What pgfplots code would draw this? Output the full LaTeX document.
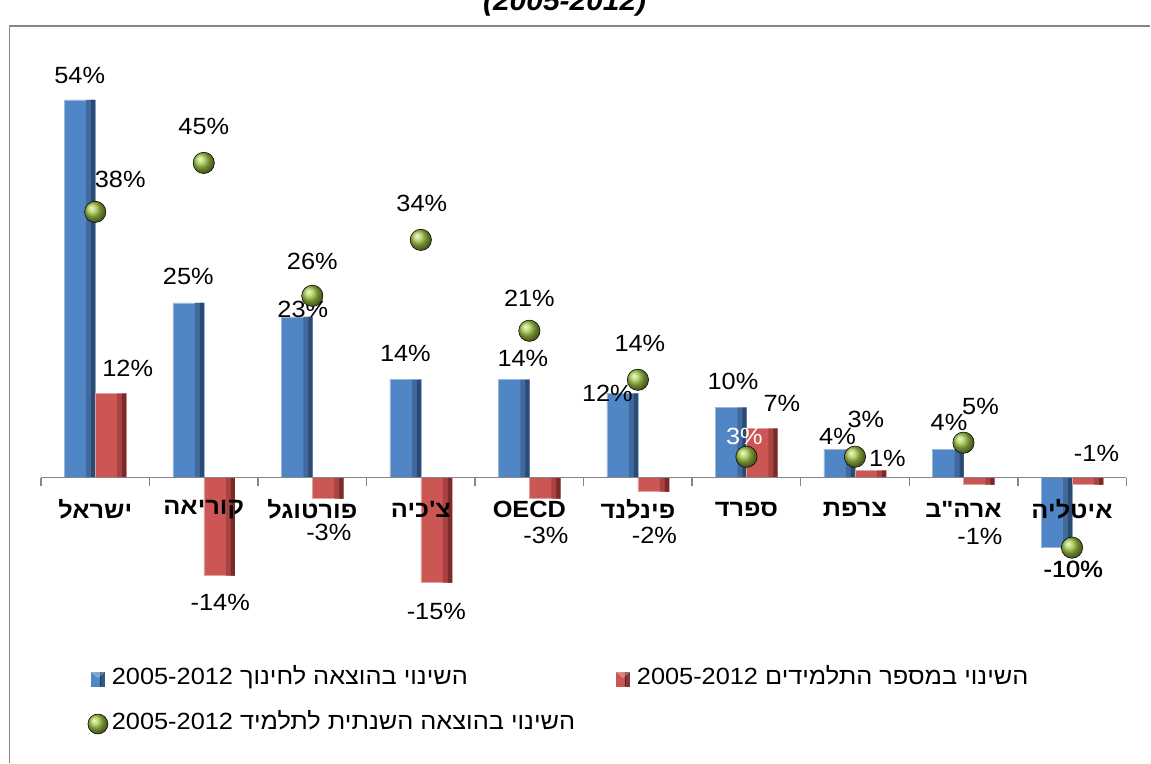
\documentclass[border=0pt]{standalone}
\usepackage{fontspec}
\setmainfont{Liberation Sans}[FakeStretch=1.08]
\newfontfamily\hebfont[Script=Hebrew,FakeStretch=1.08]{Liberation Sans}
\TeXXeTstate=1
\usepackage{pgfplots}
\pgfplotsset{compat=1.18}
\usepackage{pgfplotstable}

\definecolor{blueM}{HTML}{5186C6}
\definecolor{blueA}{HTML}{41699E}
\definecolor{blueD}{HTML}{2B4A74}
\definecolor{blueE}{HTML}{9DB5D8}
\definecolor{redM}{HTML}{CB5653}
\definecolor{redA}{HTML}{A84341}
\definecolor{redD}{HTML}{7A2A28}
\definecolor{redE}{HTML}{DDA3A1}
\definecolor{olive}{HTML}{A2C845}
\definecolor{axgray}{HTML}{868686}

\newcommand\lblfont{\fontsize{17.6}{21}\selectfont}
\newcommand\hebl{\fontsize{17.6}{21}\selectfont\hebfont}
\newcommand\hebb{\fontsize{17.6}{21}\selectfont\hebfont\bfseries}
\newcommand\pct{\pgfmathprintnumber[fixed,precision=0,assume math mode=true]{\pgfplotspointmeta}\%}

% x = category index, y = value (%), dx/dy = label offset in px from category centre / value
\pgfplotstableread{
x y dx dy
0 54 -15.5 24.5
1 25 -15.5 26
2 23 -9.5 7
3 14 -15.5 26
4 14 -6.5 21
5 12 -30.5 0
6 10 -13.5 26
7 4 -17.5 13
8 4 -14.5 27
9 -10 1.5 -22
}\spend

\pgfplotstableread{
x y dx dy
0 12 32.5 25.5
1 -14 16.5 -27
2 -3 16.5 -33.5
3 -15 15.5 -29
4 -3 16.5 -37
5 -2 16.5 -44
6 7 35.5 25
7 1 32.5 12
8 -1 16.5 -51.5
9 -1 24.5 31
}\students

% c = label blackness (100 black, 0 white)
\pgfplotstableread{
x y dx dy c
0 38 25 32 100
1 45 0 36 100
2 26 0 34 100
3 34 1 36 100
4 21 0 32 100
5 14 2 36 100
6 3 -2 20 0
7 3 11 37 100
8 5 17 36 100
9 -10 1 -22 100
}\perstudent

\pgfplotsset{
  lbl/.style={
    point meta=y,
    visualization depends on={\thisrow{dx} \as \dx},
    visualization depends on={\thisrow{dy} \as \dy},
    nodes near coords={\pct},
    nodes near coords style={anchor=center, inner sep=0pt, font=\lblfont,
      xshift=\dx*0.75pt, yshift=\dy*0.75pt}},
  sqimg/.style={legend image code/.code={%
    \pgfpathrectangle{\pgfpoint{-7.875pt}{-0.5pt}}{\pgfpoint{18.375pt}{1pt}}%
    \pgfusepath{use as bounding box}%
    \begin{pgfinterruptboundingbox}
    \fill[#1] (-4.875pt,-5.25pt) rectangle (4.875pt,5.25pt);
    \fill[black, opacity=0.35] (1.5pt,-5.25pt) rectangle (4.875pt,5.25pt);
    \fill[white, opacity=0.25] (-4.875pt,5.25pt) -- (0pt,1pt) -- (4.875pt,5.25pt) -- cycle;
    \end{pgfinterruptboundingbox}}}
}

\begin{document}
\begin{tikzpicture}[x=0.75pt,y=0.75pt]
\path (0,0) rectangle (1151,763);
\begin{axis}[
  at={(30.75pt,108.75pt)}, anchor=south west,
  scale only axis, width=814.5pt, height=420pt,
  xmin=-0.5, xmax=9.5, ymin=-20, ymax=60,
  clip=false, axis on top,
  axis y line=none,
  axis x line*=middle,
  x axis line style={draw=axgray, line width=1.1pt},
  xtick={0,...,9},
  xticklabels={\beginR ישראל\endR,\beginR קוריאה\endR,\beginR פורטוגל\endR,\beginR צ'כיה\endR,OECD,\beginR פינלנד\endR,\beginR ספרד\endR,\beginR צרפת\endR,\beginR ארה"ב\endR,\beginR איטליה\endR},
  major tick length=0pt,
  minor xtick={-0.5,0.5,...,9.5},
  minor tick length=6pt,
  tick align=outside,
  minor tick style={draw=axgray, line width=1.1pt},
  xticklabel style={font=\hebb, anchor=center, yshift=-24pt, inner sep=0pt},
  ytick=\empty,
  legend columns=2,
  legend cell align=left,
  legend style={
    at={(axis description cs:0.0428,-0.0888)}, anchor=north west,
    draw=none, fill=none, inner sep=0pt, outer sep=0pt,
    font=\lblfont,
    nodes={inner sep=0pt, text height=13pt, text depth=4.6pt},
    row sep=16.15pt,
    /tikz/every odd column/.append style={column sep=0pt},
    /tikz/every even column/.append style={column sep=28pt},
  },
]
% education spending
\addplot[ybar, bar width=23.25pt, bar shift=-11.625pt,
  draw=blueE, line width=0.4pt, fill=blueM,
  lbl, nodes near coords style={text=black},
  sqimg=blueM] table[x=x,y=y] {\spend};
\addlegendentry{\hebl\beginR השינוי בהוצאה לחינוך \beginL 2005-2012\endL{}\endR}
\addplot[forget plot, ybar, bar width=6.75pt, bar shift=-3.375pt, draw=none, fill=blueA]
  table[x=x,y=y] {\spend};
\addplot[forget plot, ybar, bar width=3pt, bar shift=-1.5pt, draw=none, fill=blueD]
  table[x=x,y=y] {\spend};

% number of students
\addplot[ybar, bar width=23.25pt, bar shift=11.625pt,
  draw=redE, line width=0.4pt, fill=redM,
  lbl, nodes near coords style={text=black},
  sqimg=redM] table[x=x,y=y] {\students};
\addlegendentry{\hebl\beginR השינוי במספר התלמידים \beginL 2005-2012\endL{}\endR}
\addplot[forget plot, ybar, bar width=6.75pt, bar shift=19.875pt, draw=none, fill=redA]
  table[x=x,y=y] {\students};
\addplot[forget plot, ybar, bar width=3pt, bar shift=21.75pt, draw=none, fill=redD]
  table[x=x,y=y] {\students};

% per-student spending
\addplot[only marks, mark=ball, mark size=8pt,
  mark options={ball color=olive, draw=none},
  lbl,
  visualization depends on={\thisrow{c} \as \lc},
  nodes near coords style={text=black!\lc!white},
  legend image code/.code={%
    \pgfpathrectangle{\pgfpoint{-7.875pt}{-0.5pt}}{\pgfpoint{18.375pt}{1pt}}%
    \pgfusepath{use as bounding box}%
    \begin{pgfinterruptboundingbox}
    \shade[ball color=olive] (0pt,0pt) circle (7.5pt);
    \end{pgfinterruptboundingbox}}
] table[x=x,y=y] {\perstudent};
\addlegendentry{\hebl\beginR השינוי בהוצאה השנתית לתלמיד \beginL 2005-2012\endL{}\endR}
\end{axis}
\draw[axgray, line width=1.1pt] (9.5,0) -- (9.5,737) -- (1151,737);
\node[overlay, anchor=base, font=\fontsize{20.8}{24}\selectfont\bfseries\itshape] at (565,752) {(2005-2012)};
\end{tikzpicture}
\end{document}
